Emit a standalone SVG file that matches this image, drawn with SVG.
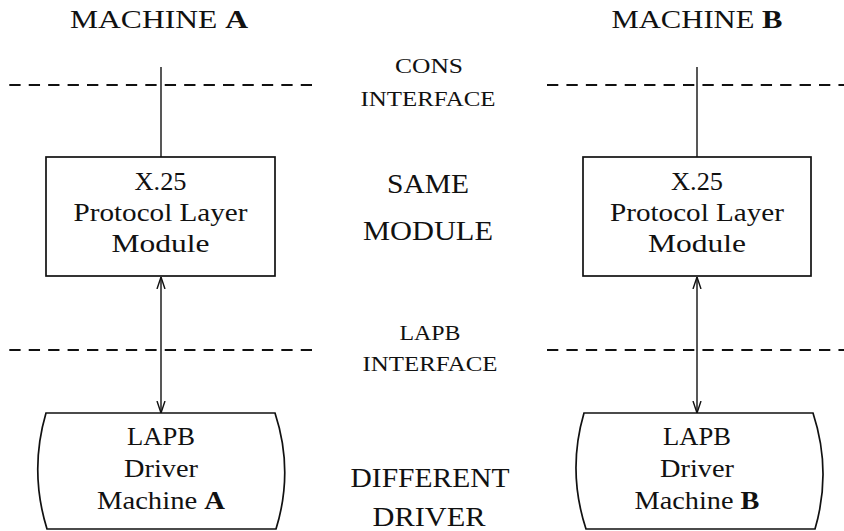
<svg xmlns="http://www.w3.org/2000/svg" width="844" height="531" viewBox="0 0 844 531">
<defs>
<style>
.t{font-family:"Liberation Serif","DejaVu Serif",serif;fill:#111;text-anchor:middle}
.hd{font-size:25px}
.bx{font-size:25px}
.sm{font-size:20px}
.lg{font-size:28px}
.shape{fill:#fff;stroke:#111;stroke-width:1.7}
.dash{stroke:#111;stroke-width:2.2;stroke-dasharray:11.3 8.13;fill:none}
.ln{stroke:#111;stroke-width:1.4;fill:none}
</style>
<marker id="ah" viewBox="0 0 12 10" refX="12" refY="5" markerWidth="12" markerHeight="10" markerUnits="userSpaceOnUse" orient="auto-start-reverse">
<path d="M0,1 L12,5 L0,9" fill="none" stroke="#111" stroke-width="1.4"/>
</marker>
</defs>
<rect width="844" height="531" fill="#fff"/>
<g id="interfaces">
<line class="dash" x1="9.3" y1="85" x2="312" y2="85"/>
<line class="dash" x1="547" y1="85" x2="844" y2="85"/>
<line class="dash" x1="9.3" y1="350" x2="312" y2="350"/>
<line class="dash" x1="547" y1="350" x2="844" y2="350"/>
</g>
<g id="labels">
<text class="t hd" x="159" y="28" textLength="178" lengthAdjust="spacingAndGlyphs">MACHINE <tspan font-weight="bold">A</tspan></text>
<text class="t hd" x="697" y="28" textLength="171" lengthAdjust="spacingAndGlyphs">MACHINE <tspan font-weight="bold">B</tspan></text>
<text class="t sm" x="429" y="73" textLength="68" lengthAdjust="spacingAndGlyphs">CONS</text>
<text class="t sm" x="428" y="106" textLength="135" lengthAdjust="spacingAndGlyphs">INTERFACE</text>
<text class="t lg" x="428" y="193" textLength="82" lengthAdjust="spacingAndGlyphs">SAME</text>
<text class="t lg" x="428" y="240" textLength="130" lengthAdjust="spacingAndGlyphs">MODULE</text>
<text class="t sm" x="430" y="340" textLength="61" lengthAdjust="spacingAndGlyphs">LAPB</text>
<text class="t sm" x="430" y="371" textLength="135" lengthAdjust="spacingAndGlyphs">INTERFACE</text>
<text class="t lg" x="430" y="487" textLength="159" lengthAdjust="spacingAndGlyphs">DIFFERENT</text>
<text class="t lg" x="429" y="526" textLength="113" lengthAdjust="spacingAndGlyphs">DRIVER</text>
</g>
<g id="connectors">
<line class="ln" x1="161" y1="67" x2="161" y2="157"/>
<line class="ln" x1="697" y1="67" x2="697" y2="157"/>
<line class="ln" x1="161" y1="277" x2="161" y2="413" marker-start="url(#ah)" marker-end="url(#ah)"/>
<line class="ln" x1="697" y1="277" x2="697" y2="413" marker-start="url(#ah)" marker-end="url(#ah)"/>
</g>
<g id="x25-a">
<rect class="shape" x="46" y="157" width="229" height="119"/>
<text class="t bx" x="160.5" y="190" textLength="52" lengthAdjust="spacingAndGlyphs">X.25</text>
<text class="t bx" x="160.5" y="221" textLength="174" lengthAdjust="spacingAndGlyphs">Protocol Layer</text>
<text class="t bx" x="160.5" y="252" textLength="98" lengthAdjust="spacingAndGlyphs">Module</text>
</g>
<g id="x25-b">
<rect class="shape" x="583" y="157" width="228" height="119"/>
<text class="t bx" x="697" y="190" textLength="52" lengthAdjust="spacingAndGlyphs">X.25</text>
<text class="t bx" x="697" y="221" textLength="174" lengthAdjust="spacingAndGlyphs">Protocol Layer</text>
<text class="t bx" x="697" y="252" textLength="98" lengthAdjust="spacingAndGlyphs">Module</text>
</g>
<g id="driver-a">
<path class="shape" d="M46,413 L275,413 Q294,471 276,529 L47,529 Q29,471 46,413 Z"/>
<text class="t bx" x="161" y="445" textLength="68" lengthAdjust="spacingAndGlyphs">LAPB</text>
<text class="t bx" x="161" y="477" textLength="74" lengthAdjust="spacingAndGlyphs">Driver</text>
<text class="t bx" x="161" y="509" textLength="128" lengthAdjust="spacingAndGlyphs">Machine <tspan font-weight="bold">A</tspan></text>
</g>
<g id="driver-b">
<path class="shape" d="M584,413 L813,413 Q832,471 815,529 L586,529 Q567,471 584,413 Z"/>
<text class="t bx" x="697" y="445" textLength="68" lengthAdjust="spacingAndGlyphs">LAPB</text>
<text class="t bx" x="697" y="477" textLength="74" lengthAdjust="spacingAndGlyphs">Driver</text>
<text class="t bx" x="697" y="509" textLength="125" lengthAdjust="spacingAndGlyphs">Machine <tspan font-weight="bold">B</tspan></text>
</g>
</svg>
